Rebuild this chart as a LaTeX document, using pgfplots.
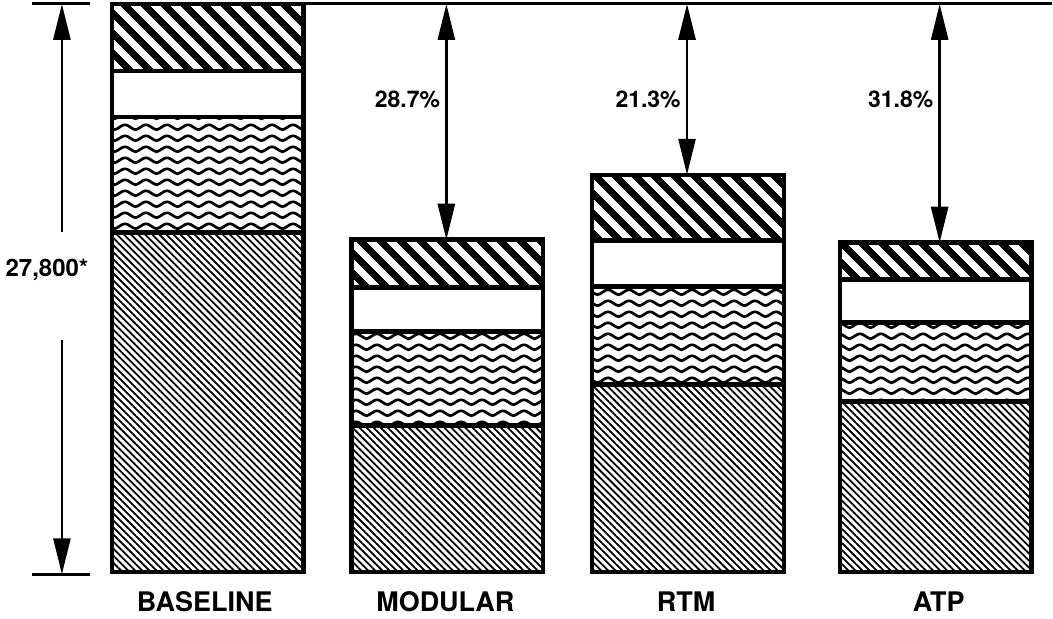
\documentclass[border=0pt]{standalone}
\usepackage{pgfplots}
\pgfplotsset{compat=1.18}
\usepackage{fontspec}
\setmainfont{TeX Gyre Heros}
\usetikzlibrary{patterns,patterns.meta,arrows.meta}

\pgfdeclarepatternformonly{wavy}{\pgfpointorigin}{\pgfpoint{10.5pt}{5.3pt}}{\pgfpoint{10.5pt}{5.3pt}}{%
  \pgfsetlinewidth{1.4pt}%
  \pgfpathmoveto{\pgfpoint{0pt}{3.8pt}}%
  \pgfpathcurveto{\pgfpoint{1.6pt}{3.8pt}}{\pgfpoint{3.9pt}{1.2pt}}{\pgfpoint{5.25pt}{1.2pt}}%
  \pgfpathcurveto{\pgfpoint{6.6pt}{1.2pt}}{\pgfpoint{8.9pt}{3.8pt}}{\pgfpoint{10.5pt}{3.8pt}}%
  \pgfusepath{stroke}%
}

\begin{document}
\begin{tikzpicture}
\begin{axis}[
  scale only axis,
  width=526.5pt, height=307pt,
  xmin=0, xmax=1053,
  ymin=-2003, ymax=27995,
  axis line style={draw=none},
  ticks=none,
  clip=false,
  ybar stacked,
  bar width=192,
  every axis plot/.append style={draw=black, line width=2.2pt},
]
% light hatched (bottom)
\addplot[pattern={Lines[angle=-45,distance=2.5pt,line width=0.9pt]}]
  coordinates {(208,16610) (448,7182) (689,9186) (937,8355)};
% wavy
\addplot[pattern=wavy]
  coordinates {(208,5668) (448,4593) (689,4788) (937,3860)};
% white
\addplot[fill=white]
  coordinates {(208,2248) (448,2150) (689,2248) (937,2101)};
% heavy hatched (top)
\addplot[pattern={Lines[angle=-45,distance=7.4pt,line width=3.6pt]}]
  coordinates {(208,3274) (448,2345) (689,3225) (937,1808)};

% top reference line
\draw[line width=1.5pt] (axis cs:303,27800) -- (axis cs:1053,27800);
% reduction arrows
\tikzset{dimarrow/.style={line width=1.4pt, {Triangle[length=18pt,width=8.5pt]}-{Triangle[length=18pt,width=8.5pt]}}}
\draw[dimarrow] (axis cs:447,27800) -- (axis cs:447,16270);
\draw[dimarrow] (axis cs:688,27800) -- (axis cs:688,19447);
\draw[dimarrow] (axis cs:941,27800) -- (axis cs:941,16124);
\node[anchor=east, font=\bfseries\fontsize{11.5}{13}\selectfont, inner sep=0pt] at (axis cs:441,23110) {28.7\%};
\node[anchor=east, font=\bfseries\fontsize{11.5}{13}\selectfont, inner sep=0pt] at (axis cs:682,23110) {21.3\%};
\node[anchor=east, font=\bfseries\fontsize{11.5}{13}\selectfont, inner sep=0pt] at (axis cs:935,23110) {31.8\%};

% left dimension
\draw[line width=1.5pt] (axis cs:32,27800) -- (axis cs:90,27800);
\draw[line width=1.5pt] (axis cs:32,-100) -- (axis cs:90,-100);
\draw[line width=1.4pt, -{Triangle[length=18pt,width=8.5pt]}] (axis cs:62,16660) -- (axis cs:62,27800);
\draw[line width=1.4pt, -{Triangle[length=18pt,width=8.5pt]}] (axis cs:62,11384) -- (axis cs:62,-100);
\node[font=\bfseries\fontsize{12}{13}\selectfont, inner sep=0pt] at (axis cs:47,14804) {27,800*};

% category labels
\node[font=\bfseries\fontsize{13.5}{15}\selectfont] at (axis cs:205,-1466) {BASELINE};
\node[font=\bfseries\fontsize{13.5}{15}\selectfont] at (axis cs:446,-1466) {MODULAR};
\node[font=\bfseries\fontsize{13.5}{15}\selectfont] at (axis cs:687,-1466) {RTM};
\node[font=\bfseries\fontsize{13.5}{15}\selectfont] at (axis cs:940,-1466) {ATP};
\end{axis}
\end{tikzpicture}
\end{document}
